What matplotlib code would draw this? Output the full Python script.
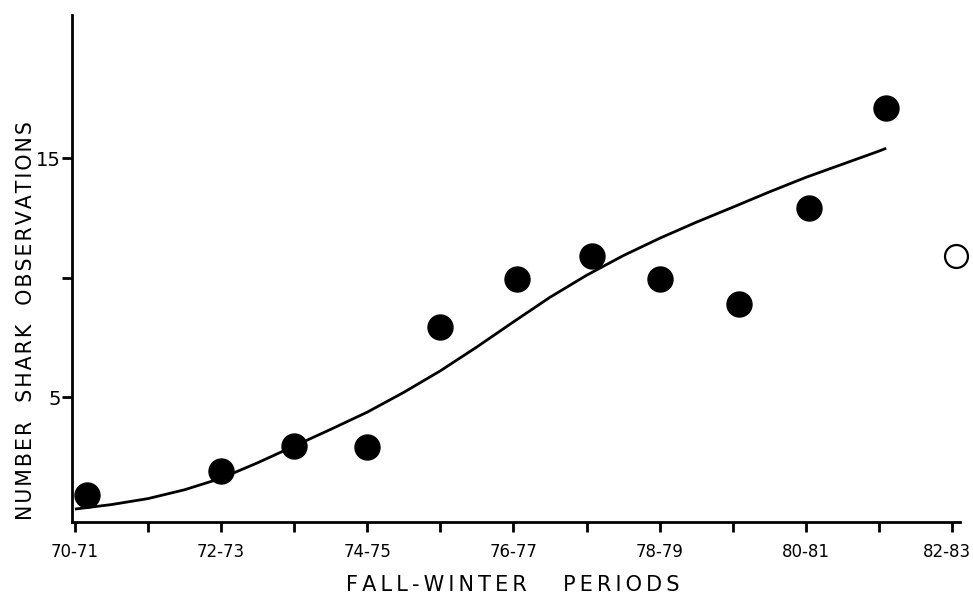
import matplotlib
matplotlib.use("Agg")
import matplotlib.pyplot as plt
import matplotlib.transforms as mtransforms

# observed seasons (start year of fall-winter period)
obs_x = [70.16, 72.0, 73.0, 74.0, 75.0, 76.05, 77.08, 78.0, 79.08, 80.05, 81.1]
obs_y = [0.9, 1.9, 2.95, 2.9, 7.95, 9.95, 10.9, 9.95, 8.9, 12.9, 17.1]

# open circle (incomplete season)
open_x = [82.05]
open_y = [10.9]

# fitted curve
fit_x = [70.0, 70.5, 71.0, 71.5, 72.0, 72.5, 73.0, 73.5, 74.0, 74.5, 75.0, 75.5,
         76.0, 76.5, 77.0, 77.5, 78.0, 78.5, 79.0, 79.5, 80.0, 80.5, 81.0, 81.1]
fit_y = [0.31, 0.5, 0.75, 1.12, 1.6, 2.25, 2.95, 3.65, 4.37, 5.2, 6.1, 7.1,
         8.15, 9.18, 10.1, 10.92, 11.65, 12.32, 12.95, 13.59, 14.2, 14.75, 15.3, 15.42]

tick_pos = list(range(70, 83))
tick_labels = ["70-71", "", "72-73", "", "74-75", "", "76-77", "", "78-79", "", "80-81", "", "82-83"]

xlabel = "FALL-WINTER   PERIODS"
ylabel = "NUMBER  SHARK  OBSERVATIONS"


def spaced(s, gap):
    # widen letter spacing like the original lettering
    return gap.join(s)


fig = plt.figure(figsize=(9.73, 5.99), dpi=100)
ax = fig.add_axes([72 / 973, 1 - 522 / 599, 888 / 973, 507 / 599])

ax.plot(fit_x, fit_y, color="black", lw=2.0, solid_capstyle="butt")
ax.plot(obs_x, obs_y, "o", color="black", ms=18, zorder=3, clip_on=False)
ax.plot(open_x, open_y, "o", mfc="white", mec="black", mew=1.6, ms=16.5, zorder=3, clip_on=False)

ax.set_xlim(69.96, 82.11)
ax.set_ylim(-0.23, 21.0)

ax.spines["top"].set_visible(False)
ax.spines["right"].set_visible(False)
ax.spines["left"].set_linewidth(2)
ax.spines["bottom"].set_linewidth(2)

ax.set_xticks(tick_pos)
ax.set_xticklabels(tick_labels, fontsize=12)
ax.set_yticks([5, 10, 15])
ax.set_yticklabels(["5", "", "15"], fontsize=14)
ax.tick_params(axis="both", direction="out", length=7, width=2)
ax.tick_params(axis="x", pad=8)
ax.tick_params(axis="y", pad=1)

# last label sits a little left so it stays inside the picture
shift = mtransforms.ScaledTranslation(-5 / 100, 0, fig.dpi_scale_trans)
last = ax.get_xticklabels()[-1]
last.set_transform(last.get_transform() + shift)

fig.text(513 / 973, 1 - 585 / 599, spaced(xlabel, "\u2009"), ha="center", va="center",
         fontsize=15)
fig.text(26 / 973, 1 - 321 / 599, spaced(ylabel, "\u200a"), ha="center", va="center",
         rotation=90, fontsize=14.8)

fig.savefig("out.png", dpi=100)
